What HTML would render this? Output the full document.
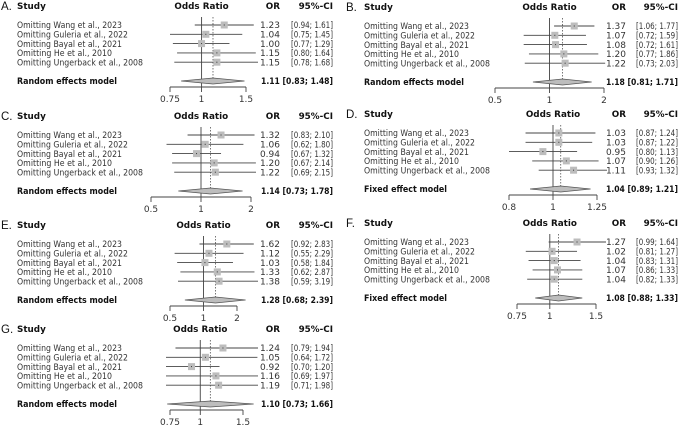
<!DOCTYPE html>
<html><head><meta charset="utf-8">
<style>
html,body{margin:0;padding:0;background:#fff;}
svg{display:block;font-family:"DejaVu Sans","Liberation Sans",sans-serif;}
</style></head>
<body>
<svg id="chart" width="685" height="427" viewBox="0 0 685 427" xmlns="http://www.w3.org/2000/svg"></svg>
<script>
const studies = ["Omitting Wang et al., 2023","Omitting Guleria et al., 2022","Omitting Bayal et al., 2021","Omitting He et al., 2010","Omitting Ungerback et al., 2008"];
const panelLetters = ["A","B","C","D","E","F","G"];
const estA=[1.23,1.04,1.00,1.15,1.15], lowA=[0.94,0.75,0.77,0.80,0.78], highA=[1.61,1.45,1.29,1.64,1.68];
const estB=[1.37,1.07,1.08,1.20,1.22], lowB=[1.06,0.72,0.72,0.77,0.73], highB=[1.77,1.59,1.61,1.86,2.03];
const estC=[1.32,1.06,0.94,1.20,1.22], lowC=[0.83,0.62,0.67,0.67,0.69], highC=[2.10,1.80,1.32,2.14,2.15];
const estD=[1.03,1.03,0.95,1.07,1.11], lowD=[0.87,0.87,0.80,0.90,0.93], highD=[1.24,1.22,1.13,1.26,1.32];
const estE=[1.62,1.12,1.03,1.33,1.38], lowE=[0.92,0.55,0.58,0.62,0.59], highE=[2.83,2.29,1.84,2.87,3.19];
const estF=[1.27,1.02,1.04,1.07,1.04], lowF=[0.99,0.81,0.83,0.86,0.82], highF=[1.64,1.27,1.31,1.33,1.33];
const estG=[1.24,1.05,0.92,1.16,1.19], lowG=[0.79,0.64,0.70,0.69,0.71], highG=[1.94,1.72,1.20,1.97,1.98];
const summaryA=[1.11,0.83,1.48], summaryB=[1.18,0.81,1.71], summaryC=[1.14,0.73,1.78], summaryD=[1.04,0.89,1.21];
const summaryE=[1.28,0.68,2.39], summaryF=[1.08,0.88,1.33], summaryG=[1.10,0.73,1.66];
const modelLabels=["Random effects model","Random effects model","Random effects model","Fixed effect model","Random effects model","Fixed effect model","Random effects model"];
const ticksA=[0.75,1,1.5], ticksB=[0.5,1,2], ticksC=[0.5,1,2], ticksD=[0.8,1,1.25], ticksE=[0.5,1,2], ticksF=[0.75,1,1.5], ticksG=[0.75,1,1.5];

const svg=document.getElementById('chart');
const NS='http://www.w3.org/2000/svg';
function mk(tag,attrs,parent){const e=document.createElementNS(NS,tag);for(const k in attrs)e.setAttribute(k,attrs[k]);(parent||svg).appendChild(e);return e;}
function f2(v){return v.toFixed(2);}

const layouts=[[0,0,170,246,258],[345,1,495,604,607],[0,110,151,251,256],[345,108,509,597,607],[0,219,170,237,258],[345,217,517,596,606],[0,323,170,243,258]];
const ests=[estA,estB,estC,estD,estE,estF,estG], lows=[lowA,lowB,lowC,lowD,lowE,lowF,lowG], highs=[highA,highB,highC,highD,highE,highF,highG];
const sums=[summaryA,summaryB,summaryC,summaryD,summaryE,summaryF,summaryG];
const ticks=[ticksA,ticksB,ticksC,ticksD,ticksE,ticksF,ticksG];
const studyWidths=[105,111,105,95,126];

panelLetters.forEach((L,p)=>{
  const [ox,oy,pmin,pmax,clipR]=layouts[p];
  const tk=ticks[p];
  const lmin=Math.log(tk[0]), lmax=Math.log(tk[tk.length-1]);
  const xs=v=>pmin+(Math.log(v)-lmin)/(lmax-lmin)*(pmax-pmin);
  const clip=x=>Math.max(pmin-4,Math.min(clipR,x));
  const g=mk('g',{});
  
  
  const sx=ox+(p%2?19:17), orR=ox+(p%2?281:280), ciL=ox+291, ciR=ox+333;
  const t=mk('text',{x:ox+1,y:oy+10,'font-size':11.5,'font-family':'Liberation Sans, sans-serif',fill:'#111'},g);t.textContent=L+'.';
  
  const h1=mk('text',{x:sx,y:oy+9,'font-size':8.8,'font-weight':'bold',fill:'#111'},g);h1.textContent='Study';
  
  const h2=mk('text',{x:xs(1),y:oy+9,'font-size':8.8,'font-weight':'bold','text-anchor':'middle',fill:'#111'},g);h2.textContent='Odds Ratio';
  
  const h3=mk('text',{x:orR,y:oy+9,'font-size':8.8,'font-weight':'bold','text-anchor':'end',fill:'#111'},g);h3.textContent='OR';
  
  const h4=mk('text',{x:ciR,y:oy+9,'font-size':8.8,'font-weight':'bold','text-anchor':'end',fill:'#111'},g);h4.textContent='95%-CI';
  
  const S=sums[p];
  const rl=mk('line',{x1:xs(1),x2:xs(1),y1:oy+17,y2:oy+87,stroke:'#555','stroke-width':1},g);
  
  const dl=mk('line',{x1:xs(S[0]),x2:xs(S[0]),y1:oy+17,y2:oy+80,stroke:'#555','stroke-width':0.8,'stroke-dasharray':'1.5,1.5'},g);
  
  studies.forEach((s,i)=>{
    const y=oy+25+i*9.3;
    const st=mk('text',{x:sx,y:y+3.2,'font-size':9,fill:'#333',textLength:studyWidths[i],lengthAdjust:'spacingAndGlyphs'},g);st.textContent=s;
    
    const ln=mk('line',{x1:clip(xs(lows[p][i])),x2:clip(xs(highs[p][i])),y1:y,y2:y,stroke:'#444','stroke-width':0.9},g);
    
    const sq=mk('rect',{x:xs(ests[p][i])-3.5,y:y-3.5,width:7,height:7,fill:'#bdbdbd'},g);
    
    const dot=mk('rect',{x:xs(ests[p][i])-0.5,y:y-0.5,width:1,height:1,fill:'#333'},g);
    
    const ov=mk('text',{x:orR,y:y+3.2,'font-size':9,'text-anchor':'end',fill:'#333'},g);ov.textContent=f2(ests[p][i]);
    
    const cv=mk('text',{x:ciL,y:y+3.2,'font-size':9,fill:'#333',textLength:ciR-ciL,lengthAdjust:'spacingAndGlyphs'},g);cv.textContent='['+f2(lows[p][i])+'; '+f2(highs[p][i])+']';
    
  });
  const my=oy+81;
  const isFixed=modelLabels[p].startsWith('Fixed');
  const ml=mk('text',{x:sx,y:my+3.2,'font-size':9,'font-weight':'bold',fill:'#111',textLength:isFixed?83:100,lengthAdjust:'spacingAndGlyphs'},g);ml.textContent=modelLabels[p];
  
  const dm=mk('polygon',{points:`${xs(S[1])},${my} ${xs(S[0])},${my-3} ${xs(S[2])},${my} ${xs(S[0])},${my+3}`,fill:'#bdbdbd',stroke:'#555','stroke-width':0.7},g);
  
  const sv=mk('text',{x:ciR,y:my+3.2,'font-size':9,'font-weight':'bold','text-anchor':'end',fill:'#111',textLength:72,lengthAdjust:'spacingAndGlyphs'},g);sv.textContent=f2(S[0])+' ['+f2(S[1])+'; '+f2(S[2])+']';
  
  const ay=oy+87;
  const ax=mk('line',{x1:pmin,x2:pmax,y1:ay,y2:ay,stroke:'#444','stroke-width':0.9},g);
  
  tk.forEach(v=>{
    const tl=mk('line',{x1:xs(v),x2:xs(v),y1:ay,y2:ay+5,stroke:'#444','stroke-width':0.9},g);
    
    const tt=mk('text',{x:xs(v),y:ay+15,'font-size':9,'text-anchor':'middle',fill:'#333'},g);tt.textContent=String(v);
    
  });
});
</script>
</body></html>
